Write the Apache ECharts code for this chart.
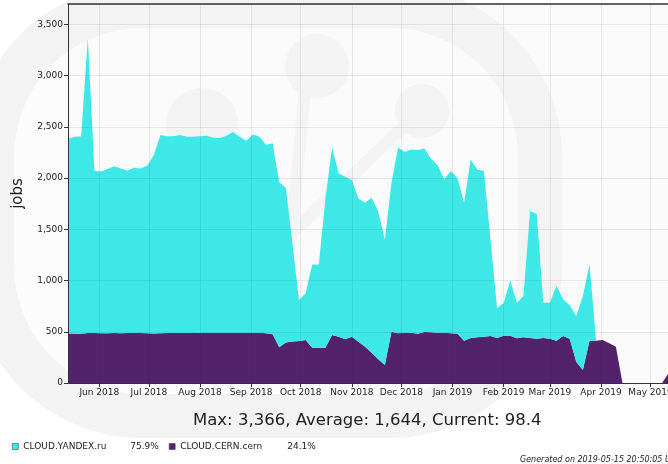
<!DOCTYPE html>
<html>
<head>
<meta charset="utf-8">
<script src="https://cdn.jsdelivr.net/npm/echarts@6/dist/echarts.min.js"></script>
<style>
  html, body { margin: 0; padding: 0; background: #fff; overflow: hidden; }
  #chart { width: 700px; height: 464px; }
</style>
</head>
<body>
<div id="chart"></div>
<script>
// 4-day bins starting 2018-05-13
const binStart = [2018, 4, 13];
const binDays = 4;

const siteNames = ['CLOUD.YANDEX.ru', 'CLOUD.CERN.cern'];
const siteShares = ['75.9%', '24.1%'];
const siteColors = ['#3de8e6', '#52236b'];

// jobs per bin
const yandexJobs = [
  1907, 1925, 1930, 2878, 1584, 1580, 1602, 1629, 1609, 1584,
  1612, 1606, 1634, 1741, 1934, 1922, 1922, 1933, 1917, 1916,
  1920, 1927, 1905, 1903, 1925, 1960, 1915, 1875, 1936, 1915,
  1840, 1865, 1610, 1512, 955, 400, 455, 814, 814, 1456,
  1832, 1594, 1587, 1529, 1399, 1405, 1512, 1440, 1219, 1450,
  1815, 1764, 1789, 1795, 1793, 1695, 1634, 1500, 1585, 1519,
  1347, 1741, 1639, 1618, 941, 291, 318, 538, 348, 404,
  1241, 1217, 345, 351, 537, 358, 327, 446, 723, 747,
  0, 0, 0, 0, 0, 0, 0, 0, 0, 0, 0, 0
];
const cernJobs = [
  478, 478, 480, 488, 487, 485, 486, 488, 486, 487,
  489, 488, 486, 484, 486, 488, 488, 487, 488, 489,
  490, 488, 490, 490, 490, 490, 490, 490, 490, 490,
  485, 475, 350, 395, 405, 410, 420, 344, 344, 344,
  468, 452, 426, 452, 403, 354, 296, 231, 176, 500,
  485, 491, 491, 480, 497, 495, 491, 490, 485, 481,
  413, 439, 446, 452, 459, 439, 462, 462, 436, 446,
  439, 433, 439, 433, 413, 459, 433, 208, 127, 413,
  413, 420, 387, 354, 0, 0, 0, 0, 0, 0, 0, 98.4
];

const yTicks = [0, 500, 1000, 1500, 2000, 2500, 3000, 3500];
const summary = 'Max: 3,366, Average: 1,644, Current: 98.4';
const footer = 'Generated on 2019-05-15 20:50:05 UTC';

const FONT = 'DejaVu Sans';
const WM = '#f3f3f3'; // watermark grey

function binDate(i) {
  return new Date(binStart[0], binStart[1], binStart[2] + i * binDays).getTime();
}
const xMin = binDate(0);
const xMax = new Date(binStart[0], binStart[1], binStart[2] + 366).getTime();

const myChart = echarts.init(document.getElementById('chart'), null, { renderer: 'canvas' });

const fmt = v => v.toLocaleString('en-US');

let option = {
  backgroundColor: '#ffffff',
  animation: false,
  textStyle: { fontFamily: FONT },
  title: {
    text: summary,
    left: 188,
    top: 407,
    textStyle: { fontFamily: FONT, fontSize: 16.5, fontWeight: 'normal', color: '#222' }
  },
  legend: {
    left: 7,
    top: 437,
    itemWidth: 6,
    itemHeight: 6,
    itemGap: 10,
    icon: 'rect',
    data: siteNames.map((n, i) => ({
      name: n,
      itemStyle: { color: siteColors[i], borderColor: '#444', borderWidth: 0.6 }
    })),
    formatter: name => {
      const i = siteNames.indexOf(name);
      return '{n|' + name + '}{p|' + siteShares[i] + '}';
    },
    textStyle: {
      fontFamily: FONT,
      fontSize: 9,
      color: '#222',
      rich: {
        n: { width: 107, fontFamily: FONT, fontSize: 9, color: '#222' },
        p: { width: 33, fontFamily: FONT, fontSize: 9, color: '#222' }
      }
    }
  },
  graphic: [
    // faint watermark logo behind the plot
    {
      type: 'rect', z: 1, silent: true,
      shape: { x: -8, y: 6, width: 548, height: 410, r: 150 },
      style: { fill: 'rgba(250,250,250,0.6)', stroke: WM, lineWidth: 44 }
    },
    {
      type: 'circle', z: 1, silent: true,
      shape: { cx: 202, cy: 124, r: 36 },
      style: { fill: WM }
    },
    {
      type: 'circle', z: 1, silent: true,
      shape: { cx: 317, cy: 66, r: 32 },
      style: { fill: WM }
    },
    {
      type: 'line', z: 1, silent: true,
      shape: { x1: 305, y1: 90, x2: 285, y2: 300 },
      style: { stroke: WM, lineWidth: 12 }
    },
    {
      type: 'circle', z: 1, silent: true,
      shape: { cx: 422, cy: 111, r: 27 },
      style: { fill: WM }
    },
    {
      type: 'line', z: 1, silent: true,
      shape: { x1: 405, y1: 125, x2: 290, y2: 235 },
      style: { stroke: WM, lineWidth: 12 }
    },
    {
      type: 'text', z: 5, silent: true,
      x: 520, y: 460,
      style: {
        text: footer, fill: '#222', fontFamily: FONT, fontSize: 8,
        fontStyle: 'italic', verticalAlign: 'middle'
      }
    }
  ],
  grid: {
    left: 68,
    right: 28,
    top: 4,
    bottom: 81,
    show: true,
    backgroundColor: '#fafafa',
    borderWidth: 0
  },
  xAxis: [
    {
      type: 'time',
      min: xMin,
      max: xMax,
      z: 3,
      minInterval: 28 * 86400000,
      maxInterval: 31 * 86400000,
      axisLine: { show: true, lineStyle: { color: '#333', width: 1 } },
      axisTick: { show: true, length: 4, lineStyle: { color: '#333' } },
      axisLabel: {
        formatter: '{MMM} {yyyy}',
        fontFamily: FONT, fontSize: 9, color: '#222', margin: 5,
        showMinLabel: false, showMaxLabel: false, hideOverlap: false
      },
      splitLine: { show: true, lineStyle: { color: 'rgba(0,0,0,0.07)', width: 1 } }
    },
    {
      type: 'time',
      position: 'top',
      min: xMin,
      max: xMax,
      z: 3,
      axisLine: { show: true, lineStyle: { color: '#333', width: 1.5 } },
      axisTick: { show: false },
      axisLabel: { show: false },
      splitLine: { show: false }
    }
  ],
  yAxis: {
    type: 'value',
    min: 0,
    max: 3700,
    interval: 500,
    z: 3,
    name: 'jobs',
    nameLocation: 'middle',
    nameGap: 42,
    nameTextStyle: { fontFamily: FONT, fontSize: 15, color: '#222' },
    axisLine: { show: true, lineStyle: { color: '#333', width: 1 } },
    axisTick: { show: true, length: 4, lineStyle: { color: '#333' } },
    axisLabel: {
      fontFamily: FONT, fontSize: 9, color: '#222', margin: 5,
      showMaxLabel: false,
      formatter: v => (yTicks.indexOf(v) >= 0 ? fmt(v) : '')
    },
    splitLine: { show: true, lineStyle: { color: 'rgba(0,0,0,0.07)', width: 1 } }
  },
  series: [
    {
      name: siteNames[1],
      type: 'line',
      stack: 'jobs',
      symbol: 'none',
      z: 2,
      color: siteColors[1],
      lineStyle: { width: 0 },
      areaStyle: { color: siteColors[1], opacity: 1 },
      data: cernJobs.map((v, i) => [binDate(i), v])
    },
    {
      name: siteNames[0],
      type: 'line',
      stack: 'jobs',
      symbol: 'none',
      z: 2,
      color: siteColors[0],
      lineStyle: { width: 0 },
      areaStyle: { color: siteColors[0], opacity: 1 },
      data: yandexJobs.map((v, i) => [binDate(i), v])
    }
  ]
};

myChart.setOption(option);
</script>
</body>
</html>
